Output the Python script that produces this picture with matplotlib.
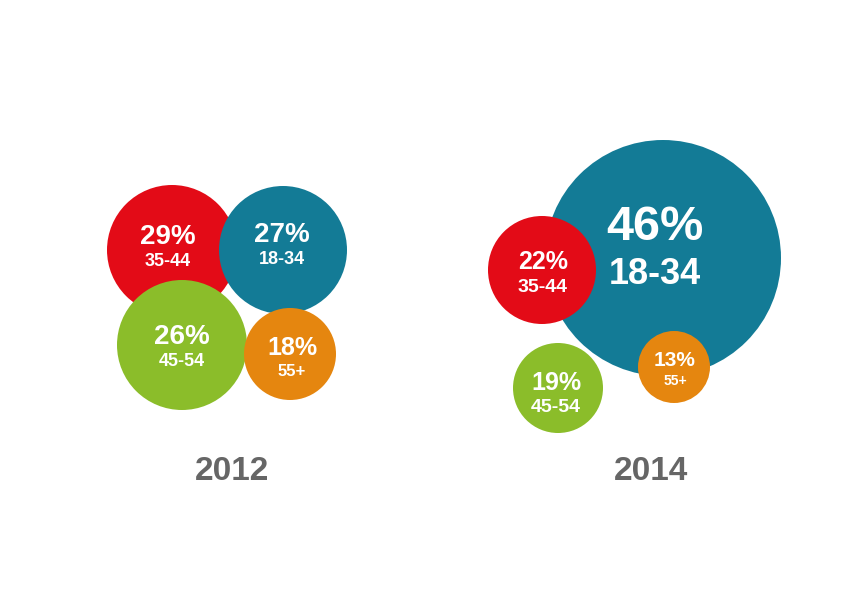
import matplotlib.pyplot as plt
from matplotlib.patches import Circle

plt.rcParams['font.family'] = ['Liberation Sans', 'DejaVu Sans']

# data
years = ['2012', '2014']
age_groups_2012 = ['35-44', '18-34', '45-54', '55+']
shares_2012 = [29, 27, 26, 18]
age_groups_2014 = ['18-34', '35-44', '45-54', '55+']
shares_2014 = [46, 22, 19, 13]

colors = {'18-34': '#137B96', '35-44': '#E30B17', '45-54': '#8BBD2A', '55+': '#E5860F'}

# layout in pixels: centre x, centre y, radius, text dx, pct dy, label dy, pct size, label size
layout_2012 = {
    '35-44': (172, 250, 65, -4, -13, 11, 20, 13),
    '18-34': (283, 250, 64, -1, -15, 10, 20, 13),
    '45-54': (182, 345, 65, 0, -8, 17, 20, 13),
    '55+': (290, 354, 46, 2, -6, 18, 18, 12),
}
layout_2014 = {
    '18-34': (663, 258, 118, -8, -31, 17, 35, 26),
    '35-44': (542, 270, 54, 1, -8, 17, 18, 14),
    '45-54': (558, 388, 45, -2, -5, 20, 18, 14),
    '55+': (674, 367, 36, 1, -6, 14, 15, 10),
}
year_pos = [(232, 471), (651, 471)]

fig = plt.figure(figsize=(8.42, 5.95), dpi=100)
ax = fig.add_axes([0, 0, 1, 1])
ax.set_xlim(0, 842)
ax.set_ylim(595, 0)
ax.set_aspect('equal')
ax.axis('off')


def draw_group(groups, shares, layout):
    for g, s in zip(groups, shares):
        cx, cy, r, dx, dp, dl, fp, fl = layout[g]
        ax.add_patch(Circle((cx, cy), r, facecolor=colors[g], edgecolor='none'))
        ax.text(cx + dx, cy + dp, f'{s}%', ha='center', va='center', color='white',
                fontsize=fp, fontweight='bold')
        ax.text(cx + dx, cy + dl, g, ha='center', va='center', color='white',
                fontsize=fl, fontweight='bold')


draw_group(age_groups_2012, shares_2012, layout_2012)
draw_group(age_groups_2014, shares_2014, layout_2014)

for y, (x, yy) in zip(years, year_pos):
    ax.text(x, yy, y, ha='center', va='center', color='#666666', fontsize=24, fontweight='bold')

fig.savefig('out.png', dpi=100)
